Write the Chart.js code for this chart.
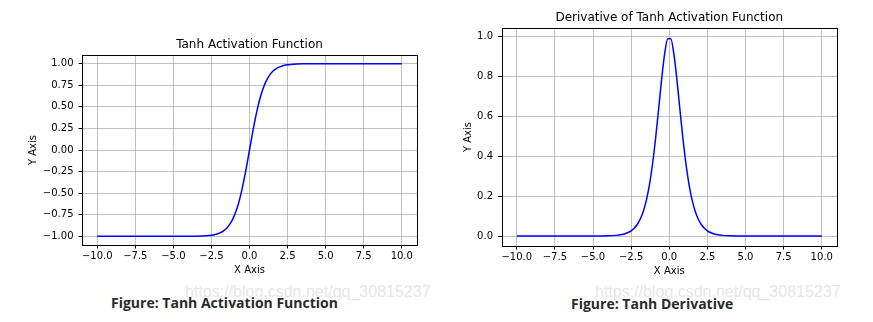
<!DOCTYPE html>
<html>
<head>
<meta charset="utf-8">
<script src="https://cdn.jsdelivr.net/npm/chart.js@4"></script>
<style>
  html,body{margin:0;padding:0;background:#fff;}
  body{width:873px;height:322px;position:relative;overflow:hidden;}
  canvas{position:absolute;top:0;}
  #c1{left:0;}
  #c2{left:440px;}
  .cap{position:absolute;font-family:"Open Sans","Noto Sans",sans-serif;font-weight:bold;font-size:14px;color:#2b2b2b;white-space:nowrap;}
  .wm{position:absolute;font-family:"Liberation Sans",Arial,sans-serif;font-size:16px;color:#e6e6e6;white-space:nowrap;}
</style>
</head>
<body>
<canvas id="c1" width="440" height="280"></canvas>
<canvas id="c2" width="433" height="280"></canvas>
<div class="wm" style="left:185px;top:283px;">https://blog.csdn.net/qq_30815237</div>
<div class="wm" style="left:595px;top:283px;">https://blog.csdn.net/qq_30815237</div>
<div class="cap" style="left:111px;top:293px;">Figure: Tanh Activation Function</div>
<div class="cap" style="left:571px;top:294px;">Figure: Tanh Derivative</div>
<script>
// ---- data ----
const xValues = [-10, -7.5, -5, -4, -3.5, -3.1, -2.9, -2.7, -2.5, -2.3, -2.1, -1.9, -1.7, -1.5, -1.3,
  -1.1, -0.9, -0.7, -0.5, -0.3, -0.1, 0.1, 0.3, 0.5, 0.7, 0.9, 1.1, 1.3, 1.5, 1.7, 1.9, 2.1,
  2.3, 2.5, 2.7, 2.9, 3.1, 3.5, 4, 5, 7.5, 10];
const tanhValues = [-1.0, -1.0, -0.9999, -0.9993, -0.9982, -0.9959, -0.9940, -0.9910, -0.9866, -0.9801,
  -0.9705, -0.9562, -0.9354, -0.9051, -0.8617, -0.8005, -0.7163, -0.6044, -0.4621, -0.2913,
  -0.0997, 0.0997, 0.2913, 0.4621, 0.6044, 0.7163, 0.8005, 0.8617, 0.9051, 0.9354, 0.9562,
  0.9705, 0.9801, 0.9866, 0.9910, 0.9940, 0.9959, 0.9982, 0.9993, 0.9999, 1.0, 1.0];
const derivValues = [0.0, 0.0, 0.0002, 0.0013, 0.0036, 0.0081, 0.0121, 0.0180, 0.0266, 0.0394,
  0.0582, 0.0857, 0.1250, 0.1807, 0.2574, 0.3592, 0.4869, 0.6347, 0.7864, 0.9151,
  0.9901, 0.9901, 0.9151, 0.7864, 0.6347, 0.4869, 0.3592, 0.2574, 0.1807, 0.1250, 0.0857,
  0.0582, 0.0394, 0.0266, 0.0180, 0.0121, 0.0081, 0.0036, 0.0013, 0.0002, 0.0, 0.0];

const xTickValues = [-10, -7.5, -5, -2.5, 0, 2.5, 5, 7.5, 10];
const xTickLabels = ['\u221210.0', '\u22127.5', '\u22125.0', '\u22122.5', '0.0', '2.5', '5.0', '7.5', '10.0'];
const tanhTickValues = [-1, -0.75, -0.5, -0.25, 0, 0.25, 0.5, 0.75, 1];
const tanhTickLabels = ['\u22121.00', '\u22120.75', '\u22120.50', '\u22120.25', '0.00', '0.25', '0.50', '0.75', '1.00'];
const derivTickValues = [0, 0.2, 0.4, 0.6, 0.8, 1.0];
const derivTickLabels = ['0.0', '0.2', '0.4', '0.6', '0.8', '1.0'];

const titles = ['Tanh Activation Function', 'Derivative of Tanh Activation Function'];
const xAxisTitle = 'X Axis';
const yAxisTitle = 'Y Axis';

// ---- drawing ----
const FONT = 'DejaVu Sans';
const framePlugin = {
  id: 'frame',
  afterDraw(chart) {
    const a = chart.chartArea, ctx = chart.ctx;
    ctx.save();
    ctx.strokeStyle = '#000';
    ctx.lineWidth = 1;
    ctx.strokeRect(Math.round(a.left) + 0.5, Math.round(a.top) + 0.5,
      Math.round(a.right) - Math.round(a.left), Math.round(a.bottom) - Math.round(a.top));
    ctx.restore();
  }
};

function makeChart(id, cfg) {
  const points = xValues.map((x, i) => ({x: x, y: cfg.yData[i]}));
  return new Chart(document.getElementById(id), {
    type: 'line',
    data: { datasets: [{ data: points, borderColor: '#0000ff', borderWidth: 1.5,
      pointRadius: 0, fill: false, cubicInterpolationMode: 'monotone' }] },
    options: {
      responsive: false, animation: false, events: [],
      layout: { padding: { left: 0, right: cfg.padRight, top: 0, bottom: 0 } },
      plugins: {
        legend: { display: false }, tooltip: { enabled: false },
        title: { display: true, text: cfg.title, fullSize: false, color: '#000',
          font: { family: FONT, size: 12, weight: 'normal', lineHeight: 1.2 },
          padding: { top: cfg.titleTop, bottom: cfg.titleBottom } }
      },
      scales: {
        x: {
          type: 'linear', min: -11, max: 11,
          afterBuildTicks(s) { s.ticks = xTickValues.map(v => ({value: v})); },
          afterFit(s) { s.height = cfg.xHeight; },
          ticks: { callback: (v, i) => xTickLabels[i], color: '#000', padding: 2,
            maxRotation: 0, autoSkip: false, font: { family: FONT, size: 10 } },
          grid: { color: '#b0b0b0', lineWidth: 0.8, tickColor: '#000', tickLength: 3.5, tickWidth: 1 },
          border: { display: false },
          title: { display: true, text: xAxisTitle, color: '#000',
            font: { family: FONT, size: 10, lineHeight: 1.2 }, padding: { top: 0, bottom: cfg.xTitlePad } }
        },
        y: {
          type: 'linear', min: cfg.yMin, max: cfg.yMax,
          afterBuildTicks(s) { s.ticks = cfg.yTicks.map(v => ({value: v})); },
          afterFit(s) { s.width = cfg.yWidth; },
          ticks: { callback: (v, i) => cfg.yLabels[i], color: '#000', padding: 5,
            autoSkip: false, font: { family: FONT, size: 10 } },
          grid: { color: '#b0b0b0', lineWidth: 0.8, tickColor: '#000', tickLength: 3.5, tickWidth: 1 },
          border: { display: false },
          title: { display: true, text: yAxisTitle, color: '#000',
            font: { family: FONT, size: 10, lineHeight: 1.2 }, padding: { top: cfg.yTitlePad, bottom: 0 } }
        }
      }
    },
    plugins: [framePlugin]
  });
}

makeChart('c1', {
  yData: tanhValues, title: titles[0], yMin: -1.1, yMax: 1.1,
  yTicks: tanhTickValues, yLabels: tanhTickLabels,
  padRight: 23, titleTop: 37.5, titleBottom: 3.1, xHeight: 35, yWidth: 82,
  xTitlePad: 4, yTitlePad: 27.3
});
makeChart('c2', {
  yData: derivValues, title: titles[1], yMin: -0.0497, yMax: 1.0437,
  yTicks: derivTickValues, yLabels: derivTickLabels,
  padRight: 36, titleTop: 11, titleBottom: 2.6, xHeight: 34, yWidth: 61.5,
  xTitlePad: 3, yTitlePad: 22.3
});
</script>
</body>
</html>
